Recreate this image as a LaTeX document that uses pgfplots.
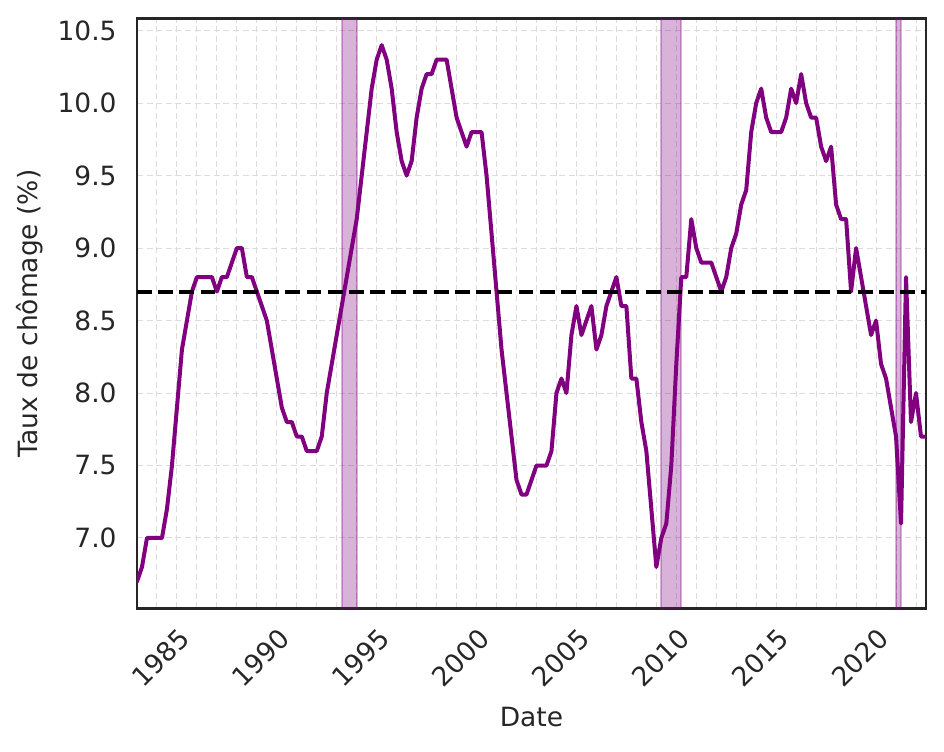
\documentclass[border=0pt]{standalone}
\usepackage{fontspec}
\setmainfont{DejaVu Sans}
\usepackage{pgfplots}
\usepackage{pgfplotstable}
\pgfplotsset{compat=1.18}
\definecolor{txt}{HTML}{262626}
\definecolor{gridc}{HTML}{DCDCDC}
\definecolor{mpurple}{HTML}{800080}

\pgfplotstableread{
x y
1984.00 6.7
1984.25 6.8
1984.50 7.0
1984.75 7.0
1985.00 7.0
1985.25 7.0
1985.50 7.2
1985.75 7.5
1986.00 7.9
1986.25 8.3
1986.50 8.5
1986.75 8.7
1987.00 8.8
1987.25 8.8
1987.50 8.8
1987.75 8.8
1988.00 8.7
1988.25 8.8
1988.50 8.8
1988.75 8.9
1989.00 9.0
1989.25 9.0
1989.50 8.8
1989.75 8.8
1990.00 8.7
1990.25 8.6
1990.50 8.5
1990.75 8.3
1991.00 8.1
1991.25 7.9
1991.50 7.8
1991.75 7.8
1992.00 7.7
1992.25 7.7
1992.50 7.6
1992.75 7.6
1993.00 7.6
1993.25 7.7
1993.50 8.0
1993.75 8.2
1994.00 8.4
1994.25 8.6
1994.50 8.8
1994.75 9.0
1995.00 9.2
1995.25 9.5
1995.50 9.8
1995.75 10.1
1996.00 10.3
1996.25 10.4
1996.50 10.3
1996.75 10.1
1997.00 9.8
1997.25 9.6
1997.50 9.5
1997.75 9.6
1998.00 9.9
1998.25 10.1
1998.50 10.2
1998.75 10.2
1999.00 10.3
1999.25 10.3
1999.50 10.3
1999.75 10.1
2000.00 9.9
2000.25 9.8
2000.50 9.7
2000.75 9.8
2001.00 9.8
2001.25 9.8
2001.50 9.5
2001.75 9.1
2002.00 8.7
2002.25 8.3
2002.50 8.0
2002.75 7.7
2003.00 7.4
2003.25 7.3
2003.50 7.3
2003.75 7.4
2004.00 7.5
2004.25 7.5
2004.50 7.5
2004.75 7.6
2005.00 8.0
2005.25 8.1
2005.50 8.0
2005.75 8.4
2006.00 8.6
2006.25 8.4
2006.50 8.5
2006.75 8.6
2007.00 8.3
2007.25 8.4
2007.50 8.6
2007.75 8.7
2008.00 8.8
2008.25 8.6
2008.50 8.6
2008.75 8.1
2009.00 8.1
2009.25 7.8
2009.50 7.6
2009.75 7.2
2010.00 6.8
2010.25 7.0
2010.50 7.1
2010.75 7.5
2011.00 8.2
2011.25 8.8
2011.50 8.8
2011.75 9.2
2012.00 9.0
2012.25 8.9
2012.50 8.9
2012.75 8.9
2013.00 8.8
2013.25 8.7
2013.50 8.8
2013.75 9.0
2014.00 9.1
2014.25 9.3
2014.50 9.4
2014.75 9.8
2015.00 10.0
2015.25 10.1
2015.50 9.9
2015.75 9.8
2016.00 9.8
2016.25 9.8
2016.50 9.9
2016.75 10.1
2017.00 10.0
2017.25 10.2
2017.50 10.0
2017.75 9.9
2018.00 9.9
2018.25 9.7
2018.50 9.6
2018.75 9.7
2019.00 9.3
2019.25 9.2
2019.50 9.2
2019.75 8.7
2020.00 9.0
2020.25 8.8
2020.50 8.6
2020.75 8.4
2021.00 8.5
2021.25 8.2
2021.50 8.1
2021.75 7.9
2022.00 7.7
2022.25 7.1
2022.50 8.8
2022.75 7.8
2023.00 8.0
2023.25 7.7
2023.50 7.7
}\datatable

\begin{document}
\begin{tikzpicture}
\begin{axis}[
  scale only axis, width=394.5pt, height=295pt,
  at={(0pt,0pt)}, anchor=south west,
  xmin=1984, xmax=2023.5, ymin=6.515, ymax=10.585,
  xtick={1985,1990,1995,2000,2005,2010,2015,2020},
  minor xtick={1984,1985,...,2023},
  ytick={7,7.5,8,8.5,9,9.5,10,10.5},
  grid=both,
  major grid style={gridc, line width=0.5pt, dash pattern=on 3pt off 1.8pt},
  minor grid style={gridc, line width=0.5pt, dash pattern=on 3pt off 1.8pt},
  major tick length=0pt, minor tick length=0pt,
  axis line style={txt, line width=1.25pt},
  /pgf/number format/assume math mode=true,
  tick label style={font=\fontsize{13.25}{16}\selectfont, text=txt},
  xticklabel style={/pgf/number format/1000 sep={}, yshift=-24.85pt, xshift=2pt, rotate=45, anchor=center, inner sep=0pt},
  yticklabel style={/pgf/number format/fixed, /pgf/number format/fixed zerofill, /pgf/number format/precision=1, anchor=east, inner sep=0pt, xshift=-10pt},
  xlabel={Date},
  ylabel={Taux de chômage (\%)},
  label style={font=\fontsize{13.25}{16}\selectfont, text=txt},
  xlabel style={at={(axis description cs:0.5,-0.16678)}, anchor=north, inner sep=0pt},
  ylabel style={at={(axis description cs:-0.1185,0.5)}, rotate=0, anchor=south, inner sep=0pt},
  clip=true,
  axis on top=false,
]
\addplot[fill=mpurple, fill opacity=0.3, draw=mpurple, draw opacity=0.3, line width=1pt] coordinates {(1994.25,6) (1994.25,11) (1995.0,11) (1995.0,6)} -- cycle;
\addplot[fill=mpurple, fill opacity=0.3, draw=mpurple, draw opacity=0.3, line width=1pt] coordinates {(2010.25,6) (2010.25,11) (2011.25,11) (2011.25,6)} -- cycle;
\addplot[fill=mpurple, fill opacity=0.3, draw=mpurple, draw opacity=0.3, line width=1pt] coordinates {(2022.0,6) (2022.0,11) (2022.25,11) (2022.25,6)} -- cycle;
\addplot[mpurple, line width=2pt, line join=round, line cap=round, mark=none] table[x=x, y=y] {\datatable};
\addplot[black, line width=2pt, dash pattern=on 7.4pt off 3.2pt, mark=none] coordinates {(1984,8.7) (2023.5,8.7)};
\end{axis}
\pgfresetboundingbox
\useasboundingbox (-68.5pt,-71.35pt) rectangle (403.5pt,304.15pt);
\end{tikzpicture}
\end{document}
